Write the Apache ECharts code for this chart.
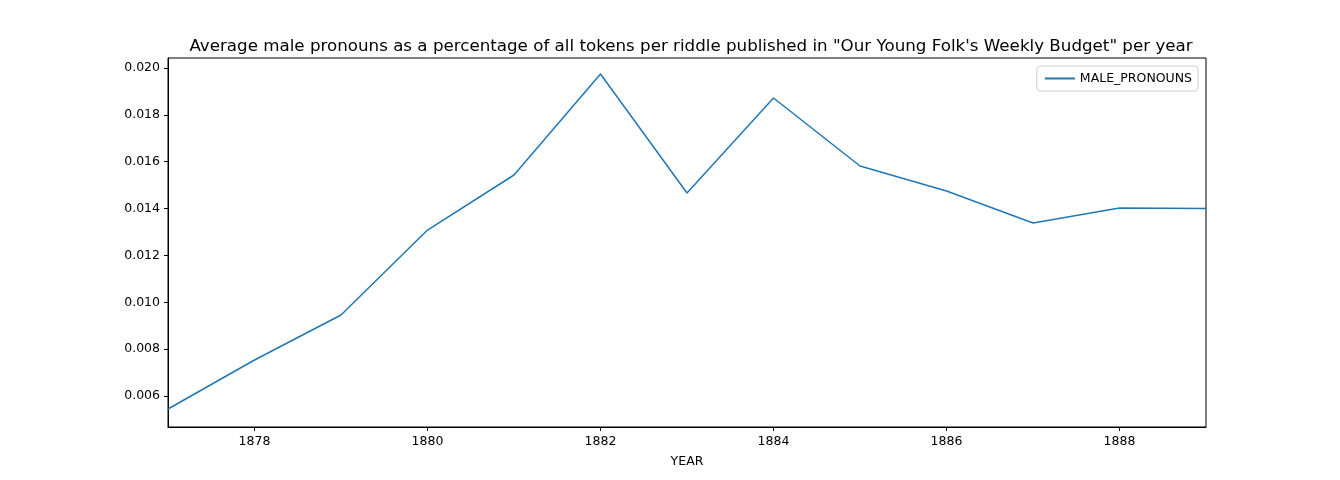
<!DOCTYPE html>
<html><head><meta charset="utf-8">
<script src="https://cdn.jsdelivr.net/npm/echarts@6/dist/echarts.min.js"></script>
<style>html,body{margin:0;padding:0;background:#fff}#c{width:1340px;height:480px}</style>
</head><body><div id="c"></div>
<script>
const years = [1877,1878,1879,1880,1881,1882,1883,1884,1885,1886,1887,1888,1889];
const malePronouns = [0.005445,0.007537,0.009457,0.013085,0.015433,0.019744,0.014665,0.018720,0.015817,0.014750,0.013384,0.014024,0.014003];
const xTicks = [1878,1880,1882,1884,1886,1888];
const yTicks = [0.006,0.008,0.010,0.012,0.014,0.016,0.018,0.020];
const font = 'DejaVu Sans';
const chart = echarts.init(document.getElementById('c'));
chart.setOption({
  animation:false,
  title:{text:'Average male pronouns as a percentage of all tokens per riddle published in "Our Young Folk\'s Weekly Budget" per year',
    left:686,top:33,textAlign:'center',textStyle:{fontFamily:font,fontSize:16.7,fontWeight:'normal',color:'#000'}},
  legend:{right:142,top:66,orient:'vertical',data:['MALE_PRONOUNS'],itemWidth:30,itemHeight:2,itemGap:8,
    icon:'rect',textStyle:{fontFamily:font,fontSize:12.5,color:'#000'},
    borderColor:'#ccc',borderWidth:1,borderRadius:3,padding:[6,6,6,8]},
  grid:{left:168,right:134,top:58,bottom:53},
  xAxis:{type:'value',min:1877,max:1889,name:'YEAR',nameLocation:'middle',nameGap:28,
    nameTextStyle:{fontFamily:font,fontSize:12.5,color:'#000'},
    axisLine:{onZero:false,lineStyle:{color:'#000'}},splitLine:{show:false},
    axisTick:{customValues:xTicks,length:4,lineStyle:{color:'#000'}},
    axisLabel:{customValues:xTicks,fontFamily:font,fontSize:12.5,color:'#000',margin:8,formatter:v=>String(v)}},
  yAxis:{type:'value',min:0.004677,max:0.020427,
    axisLine:{show:true,lineStyle:{color:'#000'}},splitLine:{show:false},
    axisTick:{show:true,customValues:yTicks,length:4,lineStyle:{color:'#000'}},
    axisLabel:{customValues:yTicks,fontFamily:font,fontSize:12.5,color:'#000',margin:8,formatter:v=>v.toFixed(3)}},
  series:[{name:'MALE_PRONOUNS',type:'line',data:years.map((y,i)=>[y,malePronouns[i]]),
    showSymbol:false,lineStyle:{color:'#1f77b4',width:1.5},itemStyle:{color:'#1f77b4'}}],
  graphic:[{type:'rect',shape:{x:168,y:58,width:1038,height:369},style:{fill:'none',stroke:'#000',lineWidth:1},silent:true}]
});
</script></body></html>
